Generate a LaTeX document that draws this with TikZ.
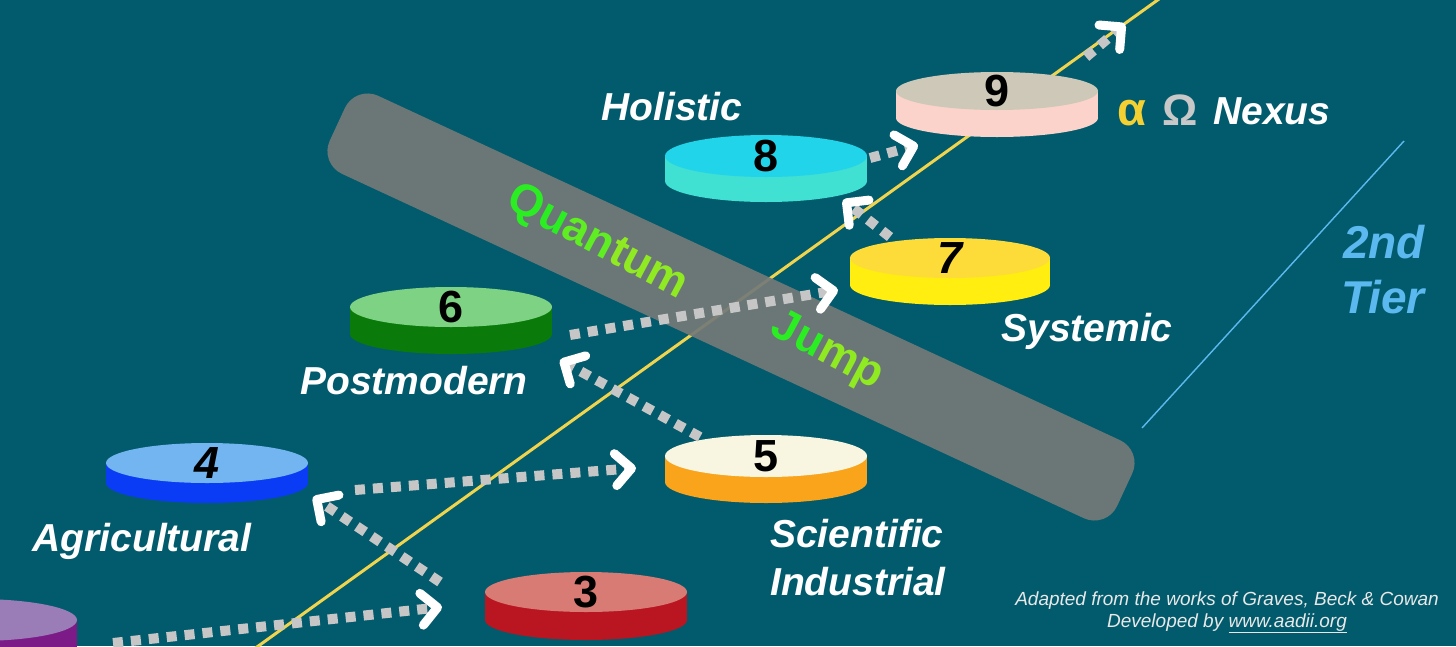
\documentclass[tikz,border=0pt]{standalone}
\usepackage{fontspec}
\setmainfont{Liberation Sans}
\usetikzlibrary{arrows.meta}
\definecolor{bg}{HTML}{025B6C}
\definecolor{ylw}{HTML}{F0D44E}
\definecolor{bandgray}{HTML}{747A78}
\definecolor{dotgray}{HTML}{C6C6C6}
\definecolor{tierblue}{HTML}{5BB9F0}
\definecolor{alphay}{HTML}{F5D033}
\definecolor{omegag}{HTML}{C8C8C8}
\definecolor{footc}{HTML}{E8E8E8}
\definecolor{gA}{HTML}{2BEE22}
\definecolor{gB}{HTML}{5FEE22}
\definecolor{gC}{HTML}{8FEA22}
\definecolor{top9}{HTML}{CDC8B8}\definecolor{side9}{HTML}{FBD3CB}
\definecolor{top8}{HTML}{22D4E9}\definecolor{side8}{HTML}{40E0D2}
\definecolor{top7}{HTML}{FDDB38}\definecolor{side7}{HTML}{FFEE10}
\definecolor{top6}{HTML}{7DD383}\definecolor{side6}{HTML}{0A7B0A}
\definecolor{top5}{HTML}{F8F6E0}\definecolor{side5}{HTML}{F9A41A}
\definecolor{top4}{HTML}{72B5F0}\definecolor{side4}{HTML}{0A3CF5}
\definecolor{top3}{HTML}{D87B74}\definecolor{side3}{HTML}{B91622}
\definecolor{topP}{HTML}{9A7DB7}\definecolor{sideP}{HTML}{7C1A87}
\newcommand\mydisk[9]{%
  \fill[#8] (#2-#4,#3) rectangle (#2+#4,#3+#6);
  \fill[#8] (#2,#3+#6) ellipse [x radius=#4pt, y radius=#5pt];
  \fill[#7] (#2,#3) ellipse [x radius=#4pt, y radius=#5pt];
  \node[num] (#1) at (#2,#3) {#9};
}
\begin{document}
\begin{tikzpicture}[x=1pt,y=-1pt,
  lab/.style={text=white, font=\fontsize{39}{44}\selectfont\bfseries\itshape, inner sep=0pt},
  num/.style={text=black, font=\fontsize{45}{48}\selectfont\bfseries, inner sep=0pt},
  qj/.style={font=\fontsize{45}{48}\selectfont\bfseries, inner sep=0pt, rotate=-28},
  foot/.style={text=footc, font=\fontsize{19}{22}\selectfont\itshape, inner sep=0pt},
  dotarrow/.style={line width=10pt, dotgray, dash pattern=on 10pt off 8pt,
    -{Straight Barb[length=16pt, width=32pt, line width=9pt, color=white, round]}},
  band/.style={fill=bandgray, fill opacity=0.93, rounded corners=25pt, draw=none},
  yline/.style={ylw, line width=3pt},
  tierline/.style={tierblue, line width=1.4pt}]
\useasboundingbox (0,0) rectangle (1456,646);
\fill[bg] (0,0) rectangle (1456,646);

% main yellow axis
\coordinate (ys) at (250,652);
\coordinate (ye) at (1166,-6);
\draw[yline] (ys) -- (ye);

% quantum jump band
\node[band, rotate=-24.9, minimum width=868pt, minimum height=86pt] (band) at (731,307) {};
\node[qj] (quantum) at (597,243) {\textcolor{gA}{Qu}\textcolor{gB}{an}\textcolor{gC}{tum}};
\node[qj] (jump) at (827,352) {\textcolor{gA}{Ju}\textcolor{gC}{mp}};

% disks
\mydisk{dP}{-23}{620}{100}{21}{28}{topP}{sideP}{}
\mydisk{d3}{586}{592}{101}{20}{28}{top3}{side3}{3}
\mydisk{d4}{207}{463}{101}{20}{20}{top4}{side4}{\itshape 4}
\mydisk{d5}{766}{456}{101}{21}{26}{top5}{side5}{5}
\mydisk{d6}{451}{307}{101}{20}{27}{top6}{side6}{6}
\mydisk{d7}{950}{258}{100}{20}{27}{top7}{side7}{\itshape 7}
\mydisk{d8}{766}{156}{101}{21}{25}{top8}{side8}{8}
\mydisk{d9}{997}{91}{101}{19}{27}{top9}{side9}{9}

% arrow end points
\coordinate (a1s) at (113,643);  \coordinate (a1e) at (442,607);
\coordinate (a2s) at (440,582);  \coordinate (a2e) at (313,497);
\coordinate (a3s) at (355,490);  \coordinate (a3e) at (636,468);
\coordinate (a4s) at (700,437);  \coordinate (a4e) at (560,360);
\coordinate (a5s) at (570,335);  \coordinate (a5e) at (838,290);
\coordinate (a6s) at (890,237);  \coordinate (a6e) at (843,200);
\coordinate (a7s) at (870,158);  \coordinate (a7e) at (918,145);
\coordinate (a8s) at (1086,57);  \coordinate (a8e) at (1125,24);
\draw[dotarrow] (a1s) -- (a1e);
\draw[dotarrow] (a2s) -- (a2e);
\draw[dotarrow] (a3s) -- (a3e);
\draw[dotarrow] (a4s) -- (a4e);
\draw[dotarrow] (a5s) -- (a5e);
\draw[dotarrow] (a6s) -- (a6e);
\draw[dotarrow] (a7s) -- (a7e);
\draw[dotarrow] (a8s) -- (a8e);

% labels
\node[lab, anchor=base] (holistic) at (672,120) {Holistic};
\node[lab, anchor=base, text=alphay, font=\fontsize{47}{50}\selectfont\bfseries] (alpha) at (1132,125) {α};
\node[lab, anchor=base, text=omegag, font=\fontsize{44}{48}\selectfont\bfseries] (omega) at (1180,125) {Ω};
\node[lab, anchor=base west] (nexus) at (1213,124) {Nexus};
\node[lab, anchor=base] (systemic) at (1087,341) {Systemic};
\node[lab, anchor=base] (postmodern) at (414,394) {Postmodern};
\node[lab, anchor=base] (agri) at (142,551) {Agricultural};
\node[lab, anchor=base west] (scientific) at (770,547) {Scientific};
\node[lab, anchor=base west] (industrial) at (770,595) {Industrial};
\node[lab, anchor=base west, text=tierblue, font=\fontsize{46}{50}\selectfont\bfseries\itshape] (second) at (1343,258) {2nd};
\node[lab, anchor=base west, text=tierblue, font=\fontsize{46}{50}\selectfont\bfseries\itshape] (tier) at (1341,313) {Tier};

% tier divider
\coordinate (t1) at (1404,141);
\coordinate (t2) at (1142,428);
\draw[tierline] (t1) -- (t2);

% footer
\node[foot, anchor=base] (foot1) at (1227,605) {Adapted from the works of Graves, Beck \& Cowan};
\node[foot, anchor=base] (foot2) at (1227,627) {Developed by \underline{www.aadii.org}};
\end{tikzpicture}
\end{document}
